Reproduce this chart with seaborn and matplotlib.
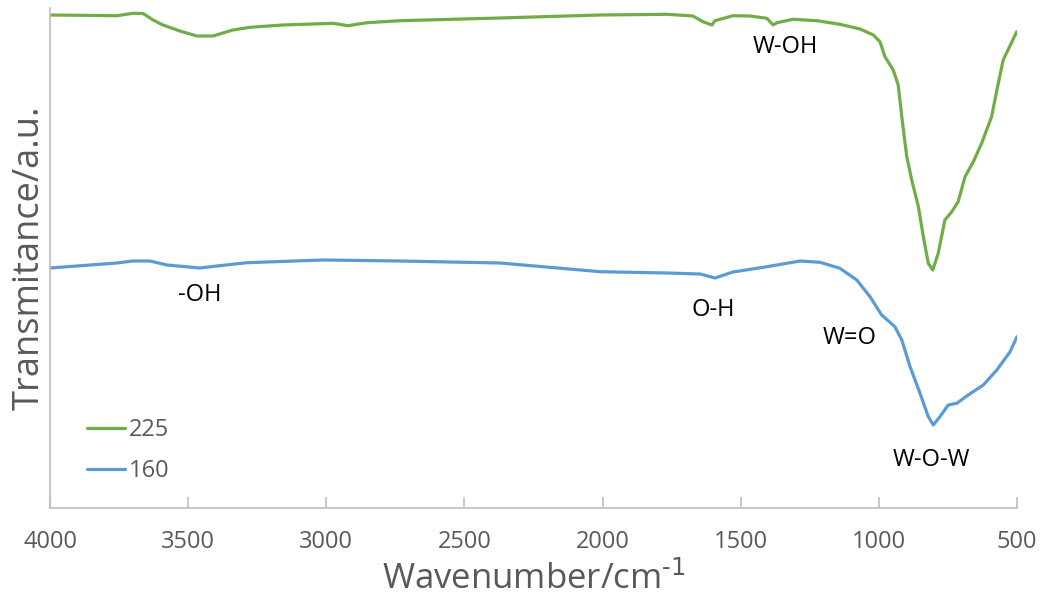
import numpy as np
import pandas as pd
import matplotlib
matplotlib.use("Agg")
import matplotlib.pyplot as plt
import seaborn as sns

# FTIR spectra (wavenumber in cm^-1, transmittance in arbitrary units)
wn_225 = [4000, 3758, 3700, 3663, 3627, 3591, 3530, 3468, 3410, 3338, 3276, 3157,
          2976, 2921, 2853, 2733, 2371, 2009, 1767, 1673, 1637, 1604, 1593, 1528,
          1467, 1405, 1383, 1369, 1311, 1224, 1141, 1068, 1020, 996, 978, 948, 930,
          917, 899, 881, 857, 839, 821, 805, 785, 761, 736, 713, 688, 658, 628,
          592, 574, 550, 501]
t_225 = [493, 492.3, 494.7, 494.5, 488, 483, 477, 472, 472, 478, 480.7, 483,
         484.7, 482.3, 485.3, 487.3, 490, 493, 493.7, 492, 486.3, 483, 487.3, 492.3,
         492, 489.7, 483, 485.3, 488.7, 487.3, 483.7, 479, 473, 466.3, 451.3, 438, 423,
         391.3, 351.3, 328, 301.3, 271.3, 244.7, 238, 254.7, 288, 296.3, 306.3, 331.3, 346.3, 364.7,
         391.3, 416.3, 448, 476.3]

wn_160 = [4000, 3758, 3700, 3638, 3577, 3457, 3396, 3287, 3215, 3012, 2733, 2371,
          2009, 1767, 1647, 1593, 1528, 1405, 1285, 1213, 1141, 1080, 1032, 990,
          942, 917, 887, 851, 821, 803, 779, 749, 718, 682, 622, 573, 525, 500]
t_160 = [240, 245, 247, 247, 243, 240, 242, 245.3, 246, 248, 247, 245,
         236.3, 235, 234, 230, 236, 241.3, 247, 245.7, 239.7, 228, 211.3, 193,
         181.3, 168, 141.3, 114.7, 91.3, 83, 91.3, 103, 104.7, 112, 123, 138, 156.3, 171.3]

series_names = ["225", "160"]
series_colors = ["#70AD47", "#5B9BD5"]

# Band assignments: (text, wavenumber, transmittance)
band_labels = ["W-OH", "-OH", "O-H", "W=O", "W-O-W"]
band_wn = [1340, 3457, 1600, 1105, 808]
band_t = [461, 213, 198, 170, 48]

df = pd.concat([
    pd.DataFrame({"Wavenumber": wn_225, "T": t_225, "sample": series_names[0]}),
    pd.DataFrame({"Wavenumber": wn_160, "T": t_160, "sample": series_names[1]}),
])

sns.set_theme(style="white")
plt.rcParams["font.family"] = ["Open Sans", "DejaVu Sans"]
plt.rcParams["mathtext.default"] = "regular"

fig = plt.figure(figsize=(10.41, 5.98), dpi=100)
ax = fig.add_axes([50 / 1041, 1 - 508 / 598, 967 / 1041, 500 / 598])

sns.lineplot(data=df, x="Wavenumber", y="T", hue="sample", hue_order=series_names,
             palette=series_colors, estimator=None, sort=False, linewidth=2.3, ax=ax)

ax.set_xlim(4000, 500)
ax.set_ylim(0, 500)
ax.set_xticks(np.arange(4000, 499, -500))
ax.set_yticks([])

for side in ["top", "right"]:
    ax.spines[side].set_visible(False)
for side in ["left", "bottom"]:
    ax.spines[side].set_color("#BFBFBF")
    ax.spines[side].set_linewidth(1.2)

ax.tick_params(axis="x", direction="in", length=8, width=1.2, color="#BFBFBF",
               labelcolor="#595959", labelsize=17, pad=16, bottom=True)

ax.set_xlabel("Wavenumber/cm$^{\\text{-1}}$", fontsize=25, color="#595959", labelpad=5)
ax.set_ylabel("Transmitance/a.u.", fontsize=26, color="#595959", labelpad=2)

for txt, x, y in zip(band_labels, band_wn, band_t):
    ax.text(x, y, txt, fontsize=17, color="black", ha="center", va="center")

leg = ax.legend(loc="upper left", bbox_to_anchor=(0.028, 0.198), borderaxespad=0,
                frameon=False, fontsize=17, handlelength=1.65, handletextpad=0.15,
                labelspacing=0.72, title=None)
for t in leg.get_texts():
    t.set_color("#595959")

fig.savefig("out.png", dpi=100)
